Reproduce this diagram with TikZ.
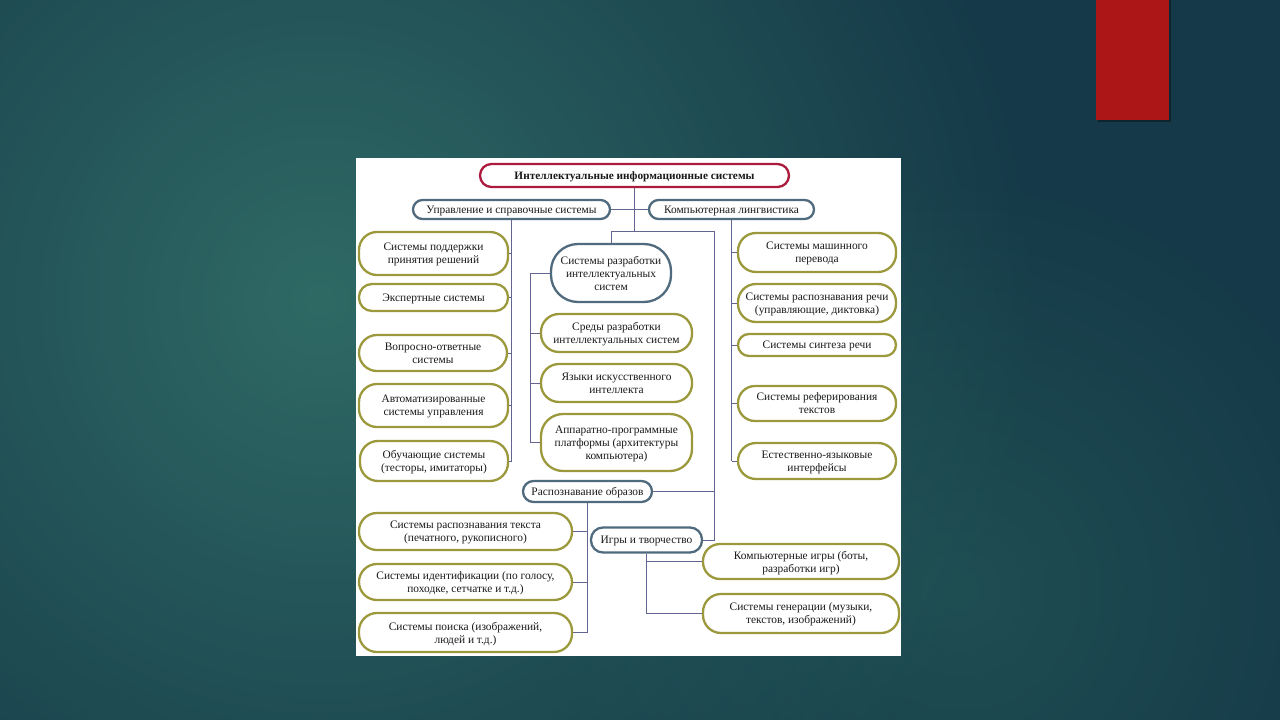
\documentclass[tikz,border=0pt]{standalone}
\usepackage{fontspec}
\setmainfont{Liberation Serif}
\usetikzlibrary{fadings}
\tikzfading[name=blobfade, inner color=transparent!0, outer color=transparent!100]
\definecolor{bgdark}{RGB}{21,57,72}
\definecolor{bglight}{RGB}{47,106,101}
\definecolor{bgmid}{RGB}{31,78,83}
\definecolor{redbar}{RGB}{172,22,22}
\definecolor{olivec}{RGB}{155,153,60}
\definecolor{bluec}{RGB}{80,106,126}
\definecolor{redc}{RGB}{172,26,62}
\definecolor{connc}{RGB}{100,100,145}
\tikzset{
  base/.style={draw, line width=2.3pt, fill=white, align=center, inner sep=0pt,
    text depth=0pt, text=black!90, font=\fontsize{11.4}{13}\selectfont},
  obox/.style={base, draw=olivec},
  bbox/.style={base, draw=bluec},
  rbox/.style={base, draw=redc, font=\fontsize{11.3}{13}\selectfont\bfseries},
  conn/.style={draw=connc, line width=0.8pt},
}
\begin{document}
\begin{tikzpicture}[x=1pt,y=-1pt]
\useasboundingbox (0,0) rectangle (1280,720);
% background
\fill[bgdark] (0,0) rectangle (1280,720);
\begin{scope}
\clip (0,0) rectangle (1280,720);
\fill[bgmid, path fading=blobfade] (960,590) circle (420);
\fill[bglight, path fading=blobfade] (320,300) circle (720);
\end{scope}
% red bar
\fill[black, opacity=0.35] (1098,0) rectangle (1171,122);
\fill[redbar] (1096,0) rectangle (1169,120);
% white picture
\fill[white] (356,158) rectangle (901,656);

% nodes
\node[rbox, minimum width=309pt, minimum height=23pt, rounded corners=11.5pt] (root) at (634.5,175.5) {Интеллектуальные информационные системы};
\node[bbox, minimum width=197pt, minimum height=19pt, rounded corners=9.5pt] (upr) at (511.5,209.5) {Управление и справочные системы};
\node[bbox, minimum width=165pt, minimum height=19pt, rounded corners=9.5pt] (komp) at (731.5,209.5) {Компьютерная лингвистика};

\node[obox, minimum width=149pt, minimum height=43pt, rounded corners=18pt] (l1) at (433.5,253.5) {Системы поддержки\\принятия решений};
\node[obox, minimum width=149pt, minimum height=27pt, rounded corners=13pt] (l2) at (433.5,297.5) {Экспертные системы};
\node[obox, minimum width=148pt, minimum height=36pt, rounded corners=18pt] (l3) at (433,353) {Вопросно-ответные\\системы};
\node[obox, minimum width=149pt, minimum height=43pt, rounded corners=18pt] (l4) at (433.5,405.5) {Автоматизированные\\системы управления};
\node[obox, minimum width=148pt, minimum height=40pt, rounded corners=18pt] (l5) at (434,461) {Обучающие системы\\(тесторы, имитаторы)};

\node[bbox, minimum width=120pt, minimum height=58pt, rounded corners=27pt] (razr) at (611,273) {Системы разработки\\интеллектуальных\\систем};
\node[obox, minimum width=151pt, minimum height=38pt, rounded corners=18pt] (c1) at (616.5,333) {Среды разработки\\интеллектуальных систем};
\node[obox, minimum width=151pt, minimum height=38pt, rounded corners=18pt] (c2) at (616.5,383) {Языки искусственного\\интеллекта};
\node[obox, minimum width=151pt, minimum height=57pt, rounded corners=22pt] (c3) at (616.5,442.5) {Аппаратно-программные\\платформы (архитектуры\\компьютера)};

\node[obox, minimum width=158pt, minimum height=39pt, rounded corners=18pt] (r1) at (817,252.5) {Системы машинного\\перевода};
\node[obox, minimum width=158pt, minimum height=38pt, rounded corners=18pt] (r2) at (817,303) {Системы распознавания речи\\(управляющие, диктовка)};
\node[obox, minimum width=158pt, minimum height=22pt, rounded corners=11pt] (r3) at (817,345) {Системы синтеза речи};
\node[obox, minimum width=158pt, minimum height=35pt, rounded corners=17pt] (r4) at (817,403.5) {Системы реферирования\\текстов};
\node[obox, minimum width=158pt, minimum height=36pt, rounded corners=18pt] (r5) at (817,461) {Естественно-языковые\\интерфейсы};

\node[bbox, minimum width=129pt, minimum height=21pt, rounded corners=10.5pt] (rasp) at (587.5,491.5) {Распознавание образов};
\node[obox, minimum width=213pt, minimum height=37pt, rounded corners=18pt] (b1) at (465.5,531.5) {Системы распознавания текста\\(печатного, рукописного)};
\node[obox, minimum width=213pt, minimum height=36pt, rounded corners=18pt] (b2) at (465.5,582) {Системы идентификации (по голосу,\\походке, сетчатке и т.д.)};
\node[obox, minimum width=213pt, minimum height=39pt, rounded corners=18pt] (b3) at (465.5,632.5) {Системы поиска (изображений,\\людей и т.д.)};

\node[bbox, minimum width=111pt, minimum height=25pt, rounded corners=12pt] (igry) at (646.5,540) {Игры и творчество};
\node[obox, minimum width=196pt, minimum height=35pt, rounded corners=17pt] (g1) at (801,561.5) {Компьютерные игры (боты,\\разработки игр)};
\node[obox, minimum width=196pt, minimum height=39pt, rounded corners=18pt] (g2) at (801,613.5) {Системы генерации (музыки,\\текстов, изображений)};

% connectors
\coordinate (j1) at (714,231);
\coordinate (cb) at (530,273);
\draw[conn] (root.south) -- (root.south |- j1);
\draw[conn] (upr.east) -- (komp.west);
\draw[conn] (razr.north) |- (j1) -- (j1 |- igry.east) -- (igry.east);
\draw[conn] (rasp.east) -- (rasp.east -| j1);
% left column
\draw[conn] (upr.south) -- (upr.south |- l5.east);
\foreach \n in {l1,l2,l3,l4,l5} \draw[conn] (\n.east) -- (\n.east -| upr.south);
% right column
\draw[conn] (komp.south) -- (komp.south |- r5.west);
\foreach \n in {r1,r2,r3,r4,r5} \draw[conn] (\n.west) -- (\n.west -| komp.south);
% centre column
\draw[conn] (razr.west) -- (cb) -- (cb |- c3.west);
\foreach \n in {c1,c2,c3} \draw[conn] (\n.west) -- (\n.west -| cb);
% bottom left
\draw[conn] (rasp.south) -- (rasp.south |- b3.east);
\foreach \n in {b1,b2,b3} \draw[conn] (\n.east) -- (\n.east -| rasp.south);
% games
\draw[conn] (igry.south) -- (igry.south |- g2.west);
\foreach \n in {g1,g2} \draw[conn] (\n.west) -- (\n.west -| igry.south);
\end{tikzpicture}
\end{document}
